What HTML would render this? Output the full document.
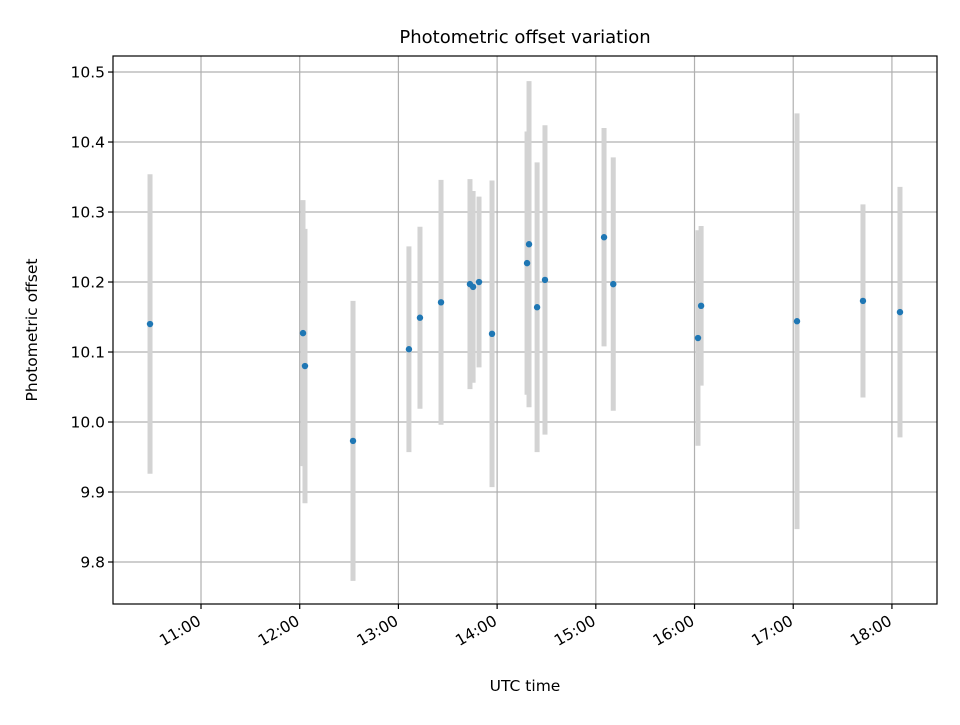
<!DOCTYPE html>
<html><head><meta charset="utf-8"><style>
body{margin:0;background:#fff;}
svg text{font-family:"DejaVu Sans","Liberation Sans",sans-serif;fill:#000;}
</style></head><body>
<svg id="chart" width="960" height="720" xmlns="http://www.w3.org/2000/svg">
<rect width="960" height="720" fill="#fff"/>
<text x="525" y="43" font-size="18" text-anchor="middle">Photometric offset variation</text>
<g id="grid"></g>
<g id="bars"></g>
<g id="dots"></g>
<rect x="113" y="56" width="824" height="548" fill="none" stroke="#000" stroke-width="1.2"/>
<g id="axes"></g>
<text x="525" y="691" font-size="15.5" text-anchor="middle">UTC time</text>
<text transform="translate(37,330) rotate(-90)" font-size="15.5" text-anchor="middle">Photometric offset</text>
</svg>
<script>
// time in minutes since 00:00 UTC
const times = [629,722,723.2,752.4,786.4,793.1,805.9,823.5,825.4,829,836.9,858.2,859.4,864.3,869.1,905,910.6,962.1,964,1022.3,1062.4,1084.9];
const offsets = [10.14,10.127,10.08,9.973,10.104,10.149,10.171,10.197,10.193,10.2,10.126,10.227,10.254,10.164,10.203,10.264,10.197,10.12,10.166,10.144,10.173,10.157];
const errors = [0.214,0.19,0.196,0.2,0.147,0.13,0.175,0.15,0.137,0.122,0.219,0.188,0.233,0.207,0.221,0.156,0.181,0.154,0.114,0.297,0.138,0.179];
const yTicks = [9.8,9.9,10.0,10.1,10.2,10.3,10.4,10.5];
const xTicks = [660,720,780,840,900,960,1020,1080];
const xTickLabels = ["11:00","12:00","13:00","14:00","15:00","16:00","17:00","18:00"];

const NS="http://www.w3.org/2000/svg";
const L=113,R=937,T=56,B=604;
const xMin=606.5,xMax=1107.4,yMin=9.74,yMax=10.5229;
const xs=t=>L+(t-xMin)/(xMax-xMin)*(R-L);
const ys=v=>B-(v-yMin)/(yMax-yMin)*(B-T);
function mk(tag,attrs,parent){const e=document.createElementNS(NS,tag);for(const k in attrs)e.setAttribute(k,attrs[k]);document.getElementById(parent).appendChild(e);return e;}

yTicks.forEach((v,i)=>{
  const y=ys(v);
  const g=mk('line',{x1:L,x2:R,y1:y,y2:y,stroke:'#b0b0b0','stroke-width':1.2},'grid');
  
  
  const t=mk('line',{x1:L-5,x2:L,y1:y,y2:y,stroke:'#000','stroke-width':1.2},'axes');
  
  
  const tx=mk('text',{x:L-8,y:y+5.5,'font-size':15.5,'text-anchor':'end'},'axes');
  tx.textContent=v.toFixed(1);
  
  
});
xTicks.forEach((m,i)=>{
  const x=xs(m);
  const g=mk('line',{x1:x,x2:x,y1:T,y2:B,stroke:'#b0b0b0','stroke-width':1.2},'grid');
  
  
  const t=mk('line',{x1:x,x2:x,y1:B,y2:B+5,stroke:'#000','stroke-width':1.2},'axes');
  
  
  const tx=mk('text',{transform:`translate(${x+1},${B+20}) rotate(-30)`,'font-size':15.5,'text-anchor':'end'},'axes');
  tx.textContent=xTickLabels[i];
  
  
});
times.forEach((m,i)=>{
  const x=xs(m);
  const b=mk('line',{x1:x,x2:x,y1:ys(offsets[i]+errors[i]),y2:ys(offsets[i]-errors[i]),stroke:'#d3d3d3','stroke-width':5},'bars');
  
  
  const d=mk('circle',{cx:x,cy:ys(offsets[i]),r:3.2,fill:'#1f77b4'},'dots');
  
  
});
</script>
</body></html>
